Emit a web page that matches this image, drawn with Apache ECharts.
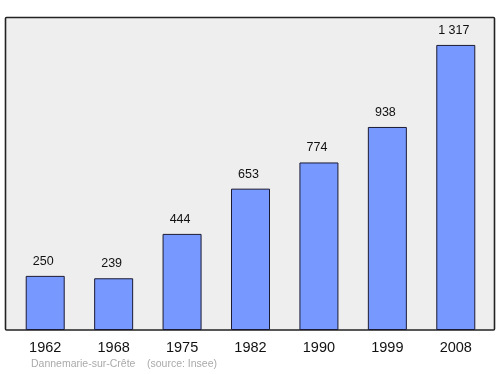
<!DOCTYPE html>
<html><head><meta charset="utf-8">
<script src="https://cdn.jsdelivr.net/npm/echarts@6/dist/echarts.min.js"></script>
<style>html,body{margin:0;padding:0;background:#fff}#c{width:500px;height:374px}</style>
</head><body><div id="c"></div>
<script>
const categories = ['1962','1968','1975','1982','1990','1999','2008'];
const population = [250, 239, 444, 653, 774, 938, 1317];
const labels = ['250','239','444','653','774','938','1 317'];

const chart = echarts.init(document.getElementById('c'), null, {renderer:'canvas'});
chart.setOption({
  animation:false,
  graphic:[
    {type:'rect', z:-10, shape:{x:5.5,y:17.5,width:489,height:312.5,r:1}, style:{fill:'#eeeeee', stroke:'#222', lineWidth:1.6}},
    {type:'text', left:31, top:359, style:{text:'Dannemarie-sur-Crête', fill:'#aaaaaa', font:'10.5px "Liberation Sans", Arial, sans-serif'}},
    {type:'text', left:147, top:359, style:{text:'(source: Insee)', fill:'#aaaaaa', font:'10.5px "Liberation Sans", Arial, sans-serif'}}
  ],
  grid:{left:11, right:10, top:17, bottom:44},
  xAxis:{type:'category', data:categories, axisLine:{show:false}, axisTick:{show:false},
    axisLabel:{color:'#111', fontSize:14.5, fontFamily:'Liberation Sans', margin:10}},
  yAxis:{type:'value', min:0, max:1446, show:false, splitLine:{show:false}},
  series:[{type:'bar', data:population, barWidth:39,
    itemStyle:{color:'#7799ff', borderColor:'#1a1a33', borderWidth:1},
    label:{show:true, position:'top', distance:8, color:'#111', fontSize:12.5, fontFamily:'Liberation Sans',
      offset:[-2,0], formatter:p=>labels[p.dataIndex]}}]
});
</script></body></html>
